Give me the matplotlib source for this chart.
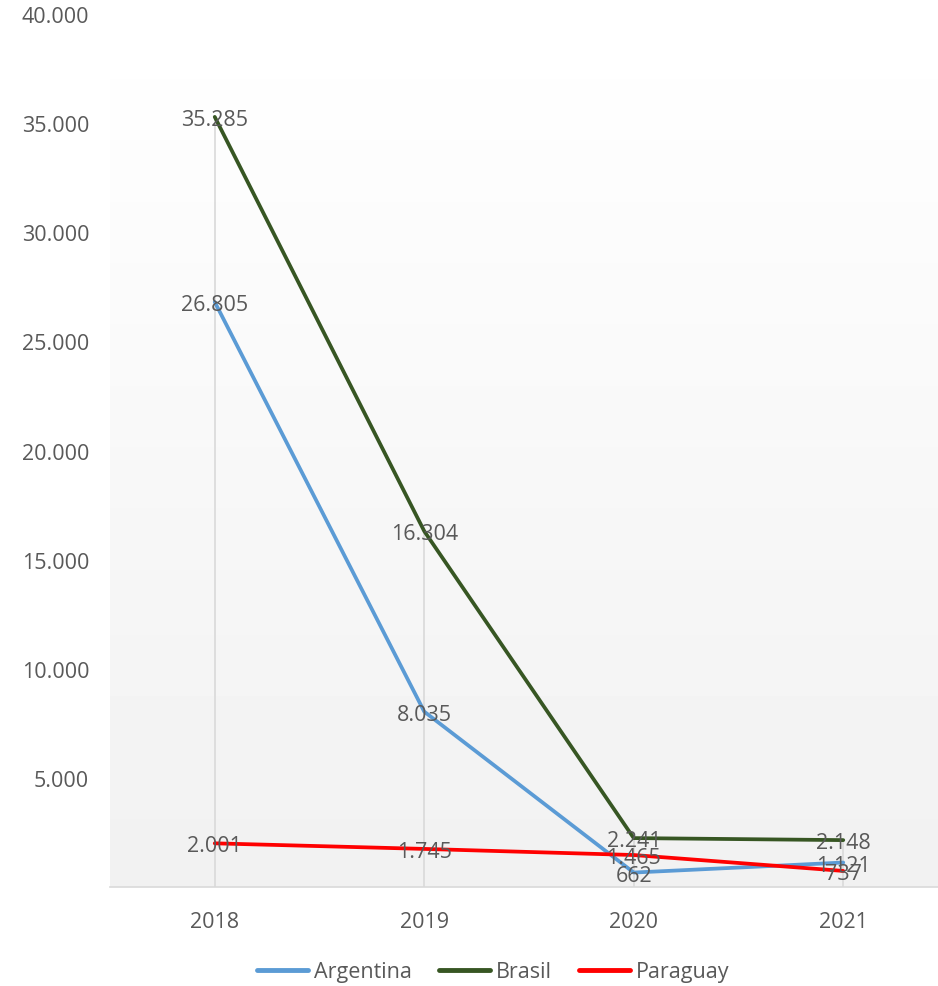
import matplotlib
matplotlib.use("Agg")
import matplotlib.pyplot as plt
import matplotlib.transforms as mtransforms
import numpy as np

years = ["2018", "2019", "2020", "2021"]
argentina = [26805, 8035, 662, 1121]
brasil = [35285, 16304, 2241, 2148]
paraguay = [2001, 1745, 1465, 737]
y_ticks = [5000, 10000, 15000, 20000, 25000, 30000, 35000, 40000]
y_labels = ["5.000", "10.000", "15.000", "20.000", "25.000", "30.000", "35.000", "40.000"]

series = [("Argentina", argentina, "#5b9bd5"),
          ("Brasil", brasil, "#375623"),
          ("Paraguay", paraguay, "#ff0000")]

def fmt(v):
    return f"{v:,}".replace(",", ".")

plt.rcParams['font.family'] = ['Open Sans', 'DejaVu Sans']
txt = "#595959"
FS = 15.5

W, H = 938, 987
fig = plt.figure(figsize=(W/100, H/100), dpi=100)
ax = fig.add_axes([110/W, 1-888/H, 838/W, (888-15)/H])

# gradient background: white at top, light gray at bottom
grad = np.linspace(0.945, 1.0, 256).reshape(-1, 1)
ax.imshow(grad, cmap="gray", vmin=0, vmax=1, aspect="auto",
          extent=(-0.5, 3.5, 0, 40000), zorder=0, origin="lower")
ax.set_xlim(-0.5, 3.5)
ax.set_ylim(0, 40000)

x = np.arange(len(years))
tops = [max(a, b, c) for a, b, c in zip(argentina, brasil, paraguay)]
ax.vlines(x, 0, tops, color="#d9d9d9", lw=1.2, zorder=1)

for name, vals, col in series:
    ax.plot(x, vals, color=col, lw=2.7, label=name, zorder=3, solid_capstyle="round")

shift = mtransforms.offset_copy(ax.transData, fig=fig, x=0, y=-2.5, units="dots")
for name, vals, col in series:
    for xi, v in zip(x, vals):
        ax.text(xi, v, fmt(v), ha="center", va="center", fontsize=FS, color=txt,
                zorder=5, transform=shift)

ax.set_xticks(x)
ax.set_xticklabels(years)
ax.set_yticks(y_ticks)
ax.set_yticklabels(y_labels)
ax.tick_params(axis="both", length=0, labelsize=FS, colors=txt)
ax.tick_params(axis="x", pad=17)
ax.tick_params(axis="y", pad=15)
for s in ["top", "right", "left"]:
    ax.spines[s].set_visible(False)
ax.spines["bottom"].set_color("#d9d9d9")
ax.spines["bottom"].set_linewidth(1.2)

leg = fig.legend(loc="center", bbox_to_anchor=(493/W, 1-973/H), ncol=3, frameon=False,
                 fontsize=FS, handlelength=2.4, columnspacing=1.25, handletextpad=0.25)
for t in leg.get_texts():
    t.set_color(txt)
for l in leg.get_lines():
    l.set_linewidth(3.5)

fig.savefig("out.png", dpi=100)
